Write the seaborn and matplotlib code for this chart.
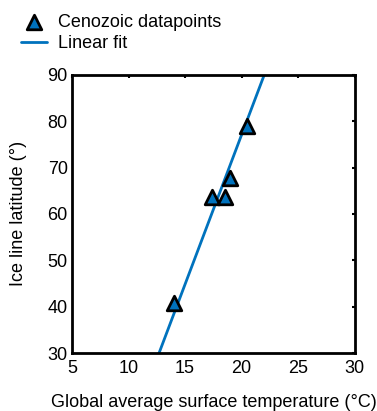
import numpy as np
import pandas as pd
import matplotlib
matplotlib.use("Agg")
import matplotlib.pyplot as plt
import seaborn as sns

# Cenozoic ice-line observations
temperature = [14.0, 17.4, 18.5, 19.0, 20.5]
ice_latitude = [40.7, 63.6, 63.6, 67.7, 79.0]

# Linear fit parameters (latitude = slope * T + intercept)
fit_slope = 6.45
fit_intercept = -51.9

x_ticks = [5, 10, 15, 20, 25, 30]
y_ticks = [30, 40, 50, 60, 70, 80, 90]

sns.set_theme(style="white")
plt.rcParams["font.family"] = ["Liberation Sans", "DejaVu Sans"]
plt.rcParams["text.color"] = "black"
plt.rcParams["axes.labelcolor"] = "black"

blue = "#0072BD"

fig = plt.figure(figsize=(3.77, 4.11), dpi=100)
ax = fig.add_axes([0.191, 0.141, 0.750, 0.677])

fit_x = np.array([5.0, 30.0])
fit_df = pd.DataFrame({"T": fit_x, "lat": fit_slope * fit_x + fit_intercept})
pts = pd.DataFrame({"T": temperature, "lat": ice_latitude})

sns.lineplot(data=fit_df, x="T", y="lat", ax=ax, color=blue, linewidth=2,
             label="Linear fit", zorder=2)
sns.scatterplot(data=pts, x="T", y="lat", ax=ax, marker="^", s=110,
                color=blue, edgecolor="black", linewidth=2,
                label="Cenozoic datapoints", zorder=3)

ax.set_xlim(5, 30)
ax.set_ylim(30, 90)
ax.set_xticks(x_ticks)
ax.set_yticks(y_ticks)
ax.tick_params(direction="in", length=2.5, width=1.5, colors="black",
               labelsize=13, top=True, right=True)
ax.tick_params(axis="x", pad=5)
ax.tick_params(axis="y", pad=3)
for s in ax.spines.values():
    s.set_color("black")
    s.set_linewidth(2)

ax.set_xlabel("Global average surface temperature (\u00b0C)", fontsize=13,
              labelpad=12, color="black")
ax.set_ylabel("Ice line latitude (\u00b0)", fontsize=13, labelpad=15,
              color="black")

handles, labels = ax.get_legend_handles_labels()
order = [labels.index("Cenozoic datapoints"), labels.index("Linear fit")]
leg = ax.legend([handles[i] for i in order], [labels[i] for i in order],
                loc="upper left", bbox_to_anchor=(-0.18, 1.22), frameon=False,
                fontsize=13, handlelength=1.45, handletextpad=0.6,
                labelspacing=0.25, borderaxespad=0, borderpad=0)
for t in leg.get_texts():
    t.set_color("black")

fig.savefig("out.png", dpi=100)
